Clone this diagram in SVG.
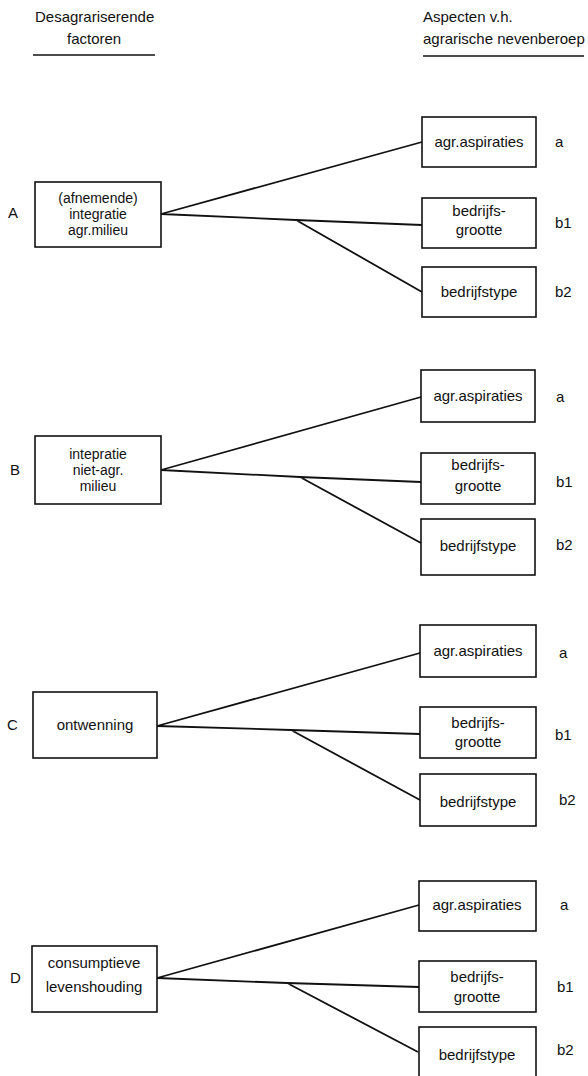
<svg xmlns="http://www.w3.org/2000/svg" width="588" height="1076" viewBox="0 0 588 1076">
<style>
text{font-family:"Liberation Sans",Arial,sans-serif;font-size:15px;fill:#111}
.c{text-anchor:middle}
.s{font-size:14px}
.box{fill:#fff;stroke:#111;stroke-width:1.6}
.ln path{fill:none;stroke:#111;stroke-width:1.8}
.ul{stroke:#111;stroke-width:1.6}
</style>
<rect width="588" height="1076" fill="#fff"/>
<g id="header">
<text x="35" y="22">Desagrariserende</text>
<text x="67" y="44">factoren</text>
<line class="ul" x1="33" y1="55" x2="155" y2="55"/>
<text x="423" y="22">Aspecten v.h.</text>
<text x="423" y="44">agrarische nevenberoep</text>
<line class="ul" x1="423" y1="56" x2="584" y2="56"/>
</g>
<g class="ln" id="connectors">
<path d="M161,214 L422,142 M161,214 L296,220 L422,225 M296,220 L422,292"/>
<path d="M161,470 L421,397 M161,470 L300,477 L421,482 M300,477 L421,543"/>
<path d="M157,726 L420,653 M157,726 L291,730 L420,734 M291,730 L420,800"/>
<path d="M157,978 L419,905 M157,978 L287,983 L419,987 M287,983 L418,1052"/>
</g>
<g id="A">
<text x="8" y="218">A</text>
<rect class="box" x="35" y="182" width="126" height="65"/>
<text class="c s" x="98" y="203">(afnemende)</text>
<text class="c s" x="98" y="219">integratie</text>
<text class="c s" x="98" y="235">agr.milieu</text>
</g>
<g id="A-a"><rect class="box" x="422" y="117" width="114" height="50"/><text class="c" x="479" y="147">agr.aspiraties</text><text x="555" y="147">a</text></g>
<g id="A-b1"><rect class="box" x="422" y="198" width="114" height="50"/><text class="c" x="479" y="216">bedrijfs-</text><text class="c" x="479" y="235">grootte</text><text x="555" y="228">b1</text></g>
<g id="A-b2"><rect class="box" x="422" y="267" width="114" height="50"/><text class="c" x="479" y="297">bedrijfstype</text><text x="555" y="297">b2</text></g>
<g id="B">
<text x="10" y="475">B</text>
<rect class="box" x="35" y="436" width="126" height="68"/>
<text class="c s" x="98" y="459">intepratie</text>
<text class="c s" x="98" y="475">niet-agr.</text>
<text class="c s" x="98" y="491">milieu</text>
</g>
<g id="B-a"><rect class="box" x="421" y="370" width="114" height="52"/><text class="c" x="478" y="401">agr.aspiraties</text><text x="556" y="402">a</text></g>
<g id="B-b1"><rect class="box" x="421" y="453" width="114" height="51"/><text class="c" x="478" y="470">bedrijfs-</text><text class="c" x="478" y="491">grootte</text><text x="556" y="487">b1</text></g>
<g id="B-b2"><rect class="box" x="421" y="519" width="114" height="56"/><text class="c" x="478" y="551">bedrijfstype</text><text x="556" y="550">b2</text></g>
<g id="C">
<text x="7" y="730">C</text>
<rect class="box" x="33" y="692" width="124" height="66"/>
<text class="c" x="95" y="730">ontwenning</text>
</g>
<g id="C-a"><rect class="box" x="420" y="625" width="116" height="52"/><text class="c" x="478" y="656">agr.aspiraties</text><text x="559" y="658">a</text></g>
<g id="C-b1"><rect class="box" x="420" y="707" width="116" height="51"/><text class="c" x="478" y="728">bedrijfs-</text><text class="c" x="478" y="747">grootte</text><text x="555" y="740">b1</text></g>
<g id="C-b2"><rect class="box" x="420" y="774" width="116" height="52"/><text class="c" x="478" y="807">bedrijfstype</text><text x="559" y="805">b2</text></g>
<g id="D">
<text x="10" y="983">D</text>
<rect class="box" x="32" y="946" width="125" height="66"/>
<text class="c" x="94" y="968">consumptieve</text>
<text class="c" x="94" y="992">levenshouding</text>
</g>
<g id="D-a"><rect class="box" x="419" y="881" width="117" height="50"/><text class="c" x="477" y="910">agr.aspiraties</text><text x="560" y="910">a</text></g>
<g id="D-b1"><rect class="box" x="419" y="961" width="117" height="51"/><text class="c" x="477" y="982">bedrijfs-</text><text class="c" x="477" y="1002">grootte</text><text x="557" y="992">b1</text></g>
<g id="D-b2"><rect class="box" x="419" y="1027" width="117" height="60"/><text class="c" x="477" y="1060">bedrijfstype</text><text x="557" y="1055">b2</text></g>
</svg>
